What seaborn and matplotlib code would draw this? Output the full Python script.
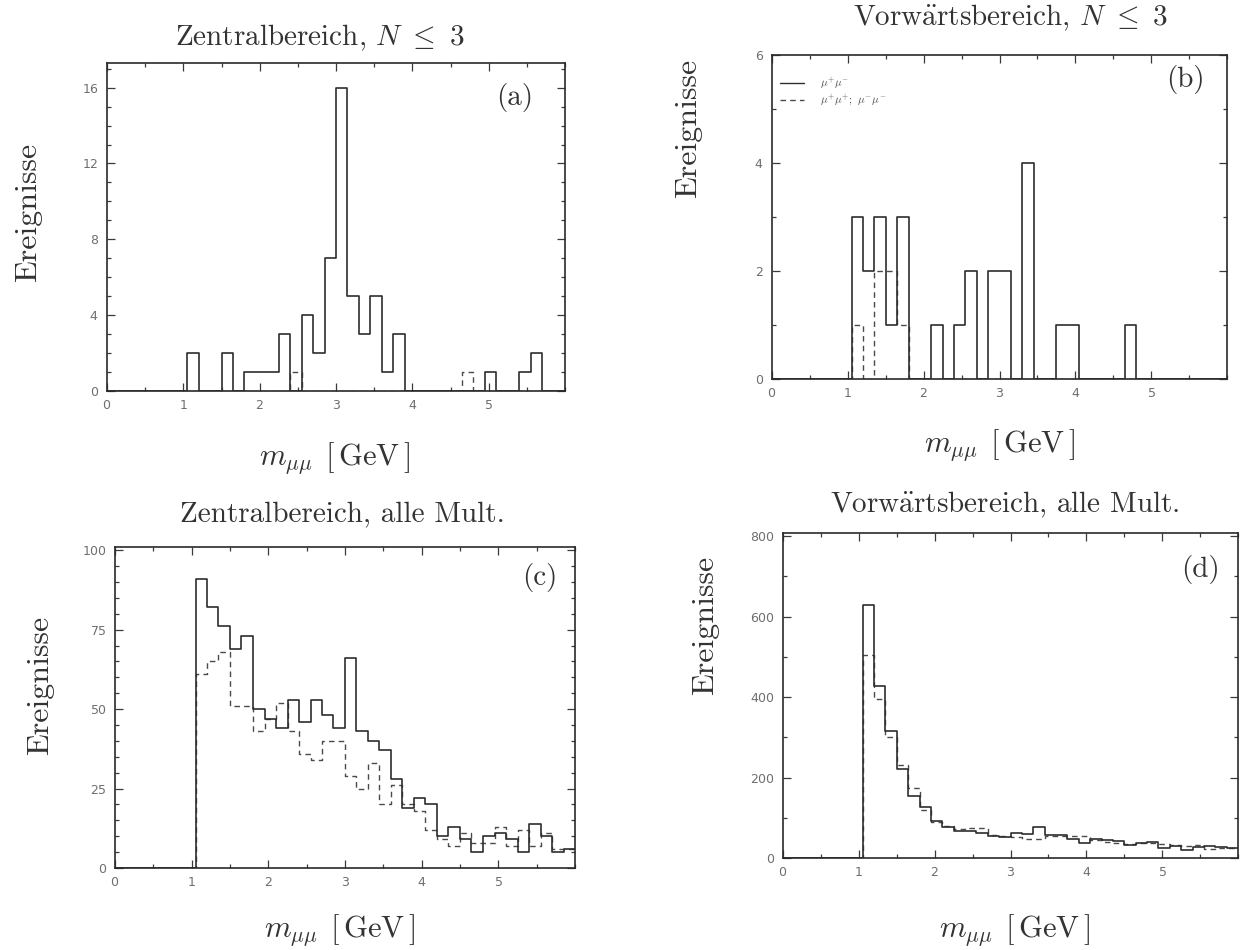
import numpy as np
import pandas as pd
import matplotlib
matplotlib.use("Agg")
import matplotlib.pyplot as plt
from matplotlib.lines import Line2D
from matplotlib.ticker import MultipleLocator, FixedLocator
import seaborn as sns

# Dimuon invariant mass, 0.15 GeV bins covering 1.05 - 6.0 GeV (33 bins)
first_edge = 1.05
bin_width = 0.15

# (a) central region, N <= 3
central_low_os = [2, 0, 0, 2, 0, 1, 1, 1, 3, 0, 4, 2, 7, 16, 5, 3, 5, 1, 3, 0,
                  0, 0, 0, 0, 0, 0, 1, 0, 0, 1, 2, 0, 0]
central_low_ls = [0, 0, 0, 0, 0, 0, 0, 0, 0, 1, 0, 0, 0, 0, 0, 0, 0, 0, 0, 0,
                  0, 0, 0, 0, 1, 0, 0, 0, 0, 0, 0, 0, 0]

# (b) forward region, N <= 3
forward_low_os = [3, 2, 3, 1, 3, 0, 0, 1, 0, 1, 2, 0, 2, 2, 0, 4, 0, 0, 1, 1,
                  0, 0, 0, 0, 1, 0, 0, 0, 0, 0, 0, 0, 0]
forward_low_ls = [1, 0, 2, 2, 1, 0, 0, 0, 0, 0, 0, 0, 0, 0, 0, 0, 0, 0, 0, 0,
                  0, 0, 0, 0, 0, 0, 0, 0, 0, 0, 0, 0, 0]

# (c) central region, all multiplicities
central_all_os = [91, 82, 76, 69, 73, 50, 47, 44, 53, 46, 53, 48, 44, 66, 43, 40,
                  37, 28, 19, 22, 20, 10, 13, 9, 5, 10, 11, 9, 5, 14, 10, 5, 6]
central_all_ls = [61, 65, 68, 51, 51, 43, 47, 52, 43, 36, 34, 40, 40, 29, 25, 33,
                  20, 26, 20, 18, 12, 9, 7, 11, 8, 8, 13, 7, 12, 7, 11, 6, 6]

# (d) forward region, all multiplicities
forward_all_os = [630, 427, 315, 221, 155, 127, 91, 78, 68, 66, 62, 55, 52, 63, 60,
                  76, 58, 57, 47, 38, 46, 44, 42, 33, 38, 40, 24, 30, 20, 28, 30, 28, 25]
forward_all_ls = [505, 395, 300, 232, 174, 120, 90, 80, 72, 75, 75, 58, 55, 52, 47,
                  47, 55, 55, 55, 55, 45, 40, 38, 35, 38, 38, 35, 32, 30, 33, 22, 26, 25]

titles = [r"Zentralbereich, $N\ \leq\ 3$",
          r"Vorw$\ddot{\mathrm{a}}$rtsbereich, $N\ \leq\ 3$",
          r"Zentralbereich, alle Mult.",
          r"Vorw$\ddot{\mathrm{a}}$rtsbereich, alle Mult."]
panel_tags = ["(a)", "(b)", "(c)", "(d)"]
y_label = "Ereignisse"
x_label = r"$m_{\mu\mu}\;\, [\,\mathrm{GeV}\,]$"
legend_labels = [r"$\mu^{+}\mu^{-}$", r"$\mu^{+}\mu^{+};\ \mu^{-}\mu^{-}$"]
x_tick_values = [0, 1, 2, 3, 4, 5]

y_tops = [17.3, 6.0, 101.0, 808.0]
y_major = [4, 2, 25, 200]
y_minor = [1, 1, 5, 100]

sns.set_style("ticks")
plt.rcParams["font.family"] = ["cmr10", "DejaVu Serif"]
plt.rcParams["mathtext.fontset"] = "cm"
plt.rcParams["axes.formatter.use_mathtext"] = True
plt.rcParams["axes.unicode_minus"] = False

W, H = 1240, 950
fig = plt.figure(figsize=(W / 100, H / 100), dpi=100)
fig.patch.set_facecolor("white")


def px_axes(left, top, right, bottom):
    return fig.add_axes([left / W, 1 - bottom / H, (right - left) / W, (bottom - top) / H])


boxes = [(107, 63, 565, 391), (772, 55, 1227, 379),
         (115, 547, 575, 868), (783, 533, 1238, 858)]
axes = [px_axes(*b) for b in boxes]

n_lead = int(round(first_edge / bin_width))
n_total = n_lead + len(central_low_os)
centers = (np.arange(n_total) + 0.5) * bin_width

series = [(central_low_os, central_low_ls), (forward_low_os, forward_low_ls),
          (central_all_os, central_all_ls), (forward_all_os, forward_all_ls)]

ink = "#2e2e2e"
tick_grey = "#6e6e6e"

for i, (ax, (os_counts, ls_counts)) in enumerate(zip(axes, series)):
    df = pd.DataFrame({
        "m": centers,
        "os": np.r_[np.zeros(n_lead), os_counts],
        "ls": np.r_[np.zeros(n_lead), ls_counts],
    })
    sns.histplot(data=df, x="m", weights="ls", binwidth=bin_width,
                 binrange=(0.0, n_total * bin_width), element="step",
                 fill=False, color="#4a4a4a", linewidth=1.0, linestyle=(0, (4, 3)),
                 ax=ax)
    sns.histplot(data=df, x="m", weights="os", binwidth=bin_width,
                 binrange=(0.0, n_total * bin_width), element="step",
                 fill=False, color=ink, linewidth=1.2, ax=ax)

    ax.set_xlim(0, 6)
    ax.set_ylim(0, y_tops[i])
    ax.set_xlabel("")
    ax.set_ylabel("")
    ax.xaxis.set_major_locator(FixedLocator(x_tick_values))
    ax.xaxis.set_minor_locator(MultipleLocator(0.5))
    ax.yaxis.set_major_locator(MultipleLocator(y_major[i]))
    ax.yaxis.set_minor_locator(MultipleLocator(y_minor[i]))
    ax.tick_params(which="both", direction="in", top=True, right=True,
                   color="#3a3a3a", width=0.9)
    ax.tick_params(which="major", length=6, pad=6, labelsize=9,
                   labelcolor=tick_grey)
    ax.tick_params(which="minor", length=3)
    for lab in ax.get_xticklabels() + ax.get_yticklabels():
        lab.set_fontfamily("DejaVu Sans")
    for sp in ax.spines.values():
        sp.set_visible(True)
        sp.set_color("#2a2a2a")
        sp.set_linewidth(1.2)
    ax.set_facecolor("white")

# Titles, axis labels and panel tags, placed in figure pixels
def ftext(x, y, s, **kw):
    fig.text(x / W, 1 - y / H, s, ha="center", va="center", color="#333333", **kw)


title_pos = [(320, 38), (1010, 18), (342, 515), (1005, 505)]
ylab_pos = [(28, 212), (688, 128), (40, 685), (705, 625)]
xlab_pos = [(335, 458), (1000, 445), (340, 930), (1015, 930)]
tag_pos = [(515, 97), (1185, 80), (540, 578), (1200, 570)]

for i in range(4):
    ftext(*title_pos[i], titles[i], fontsize=21)
    ftext(*ylab_pos[i], y_label, fontsize=23, rotation=90)
    ftext(*xlab_pos[i], x_label, fontsize=22)
    ftext(*tag_pos[i], panel_tags[i], fontsize=21)

handles = [Line2D([], [], color=ink, linewidth=1.0),
           Line2D([], [], color="#4a4a4a", linewidth=1.0, linestyle=(0, (4, 3)))]
leg = axes[1].legend(handles, legend_labels, loc="upper left",
                     bbox_to_anchor=(0.0, 0.96), frameon=False, fontsize=8,
                     handlelength=2.2, handletextpad=1.4, labelspacing=0.1,
                     borderaxespad=0.3)
for t in leg.get_texts():
    t.set_color("#555555")

fig.savefig("out.png", dpi=100, facecolor="white")
